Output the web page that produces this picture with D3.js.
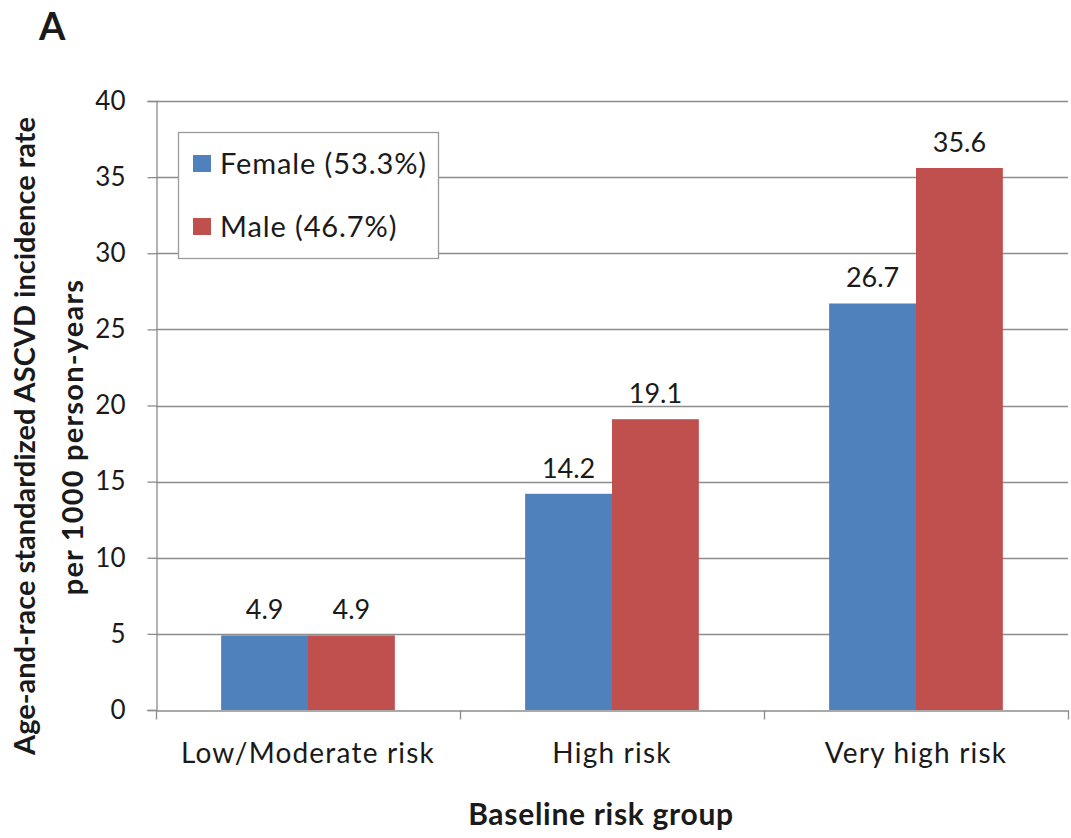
<!DOCTYPE html>
<html>
<head>
<meta charset="utf-8">
<script src="https://cdn.jsdelivr.net/npm/d3@7"></script>
<style>
  html, body { margin: 0; padding: 0; background: #fff; }
  svg { display: block; }
  text { font-family: Lato, "Open Sans", sans-serif; fill: #1a1a1a; }
</style>
</head>
<body>
<svg id="chart" width="1071" height="838"></svg>
<script>
// Baseline risk groups and age/race standardized ASCVD incidence per 1000 person-years
const categories = ["Low/Moderate risk", "High risk", "Very high risk"];
const seriesNames = ["Female (53.3%)", "Male (46.7%)"];
const femaleValues = [4.9, 14.2, 26.7];
const maleValues = [4.9, 19.1, 35.6];
const yTicks = [0, 5, 10, 15, 20, 25, 30, 35, 40];
const colors = ["#4F81BD", "#C0504D"];

const svg = d3.select("#chart");
const plot = { left: 156, right: 1068, top: 101, bottom: 710 };

const x0 = d3.scaleBand().domain(categories).range([plot.left, plot.right]).padding(0);
const x1 = d3.scaleBand().domain(seriesNames).range([0, x0.bandwidth()])
  .paddingInner(0).paddingOuter(0.75);
const y = d3.scaleLinear().domain([0, 40]).range([plot.bottom, plot.top]);

const gridColor = "#8c8c8c";

// horizontal gridlines
svg.append("g").selectAll("line").data(yTicks.filter(d => d > 0)).join("line")
  .attr("x1", plot.left).attr("x2", plot.right)
  .attr("y1", d => Math.round(y(d)) + 0.5).attr("y2", d => Math.round(y(d)) + 0.5)
  .attr("stroke", gridColor).attr("stroke-width", 1.3);

// y axis
const yAxis = d3.axisLeft(y).tickValues(yTicks).tickSize(9).tickPadding(22);
const gy = svg.append("g").attr("transform", `translate(${plot.left + 0.5},0)`).call(yAxis);
gy.select(".domain").attr("stroke", gridColor).attr("stroke-width", 1.3);
gy.selectAll(".tick line").attr("stroke", gridColor).attr("stroke-width", 1.3);
gy.selectAll(".tick text").style("font-size", "26px").attr("fill", "#1a1a1a")
  .style("font-family", "Lato, 'Open Sans', sans-serif");

// bars
const rows = categories.map((c, i) => ({ cat: c, vals: [femaleValues[i], maleValues[i]] }));
const groups = svg.append("g").selectAll("g").data(rows).join("g")
  .attr("transform", d => `translate(${x0(d.cat)},0)`);
groups.selectAll("rect").data(d => d.vals.map((v, j) => ({ v, s: seriesNames[j], j })))
  .join("rect")
  .attr("x", d => x1(d.s)).attr("width", x1.bandwidth())
  .attr("y", d => y(d.v)).attr("height", d => y(0) - y(d.v))
  .attr("fill", d => colors[d.j]);
groups.selectAll("text.val").data(d => d.vals.map((v, j) => ({ v, s: seriesNames[j] })))
  .join("text").attr("class", "val")
  .attr("x", d => x1(d.s) + x1.bandwidth() / 2).attr("y", d => y(d.v) - 16)
  .attr("text-anchor", "middle").style("font-size", "27px")
  .text(d => d.v.toFixed(1));

// x axis
const xAxis = d3.axisBottom(x0).tickSize(0).tickPadding(0).tickFormat("");
const gx = svg.append("g").attr("transform", `translate(0,${plot.bottom + 0.5})`).call(xAxis);
gx.select(".domain").attr("stroke", gridColor).attr("stroke-width", 1.3);
gx.selectAll(".tick").remove();
const boundaries = [plot.left].concat(categories.map(c => x0(c) + x0.bandwidth()));
gx.selectAll("line.sep").data(boundaries).join("line").attr("class", "sep")
  .attr("x1", d => Math.round(d) + 0.5).attr("x2", d => Math.round(d) + 0.5)
  .attr("y1", 0).attr("y2", 9).attr("stroke", gridColor).attr("stroke-width", 1.3);
svg.append("g").selectAll("text").data(categories).join("text")
  .attr("x", d => x0(d) + x0.bandwidth() / 2).attr("y", 763)
  .attr("text-anchor", "middle").style("font-size", "28px").style("letter-spacing", "1.2px")
  .text(d => d);

// legend
const lg = svg.append("g");
lg.append("rect").attr("x", 178.5).attr("y", 132.5).attr("width", 260).attr("height", 126)
  .attr("fill", "#fff").attr("stroke", "#9a9a9a").attr("stroke-width", 1.3);
seriesNames.forEach((s, i) => {
  const cy = 164 + i * 63;
  lg.append("rect").attr("x", 193).attr("y", cy - 9).attr("width", 18).attr("height", 17)
    .attr("fill", colors[i]);
  lg.append("text").attr("x", 220).attr("y", cy + 9.5).style("font-size", "29px")
    .style("letter-spacing", "0.9px").text(s);
});

// axis titles
svg.append("text")
  .attr("transform", `translate(35,436) rotate(-90)`)
  .attr("text-anchor", "middle").style("font-size", "29px").style("font-weight", "bold")
  .text("Age-and-race standardized ASCVD incidence rate");
svg.append("text")
  .attr("transform", `translate(83,437) rotate(-90)`)
  .attr("text-anchor", "middle").style("font-size", "29px").style("font-weight", "bold")
  .style("letter-spacing", "1.2px")
  .text("per 1000 person-years");
svg.append("text").attr("x", 601).attr("y", 825).attr("text-anchor", "middle")
  .style("font-size", "30px").style("font-weight", "bold").style("letter-spacing", "0.7px")
  .text("Baseline risk group");

// panel letter
svg.append("text").attr("x", 39).attr("y", 40).style("font-size", "38px")
  .style("font-weight", "bold").text("A");
</script>
</body>
</html>
